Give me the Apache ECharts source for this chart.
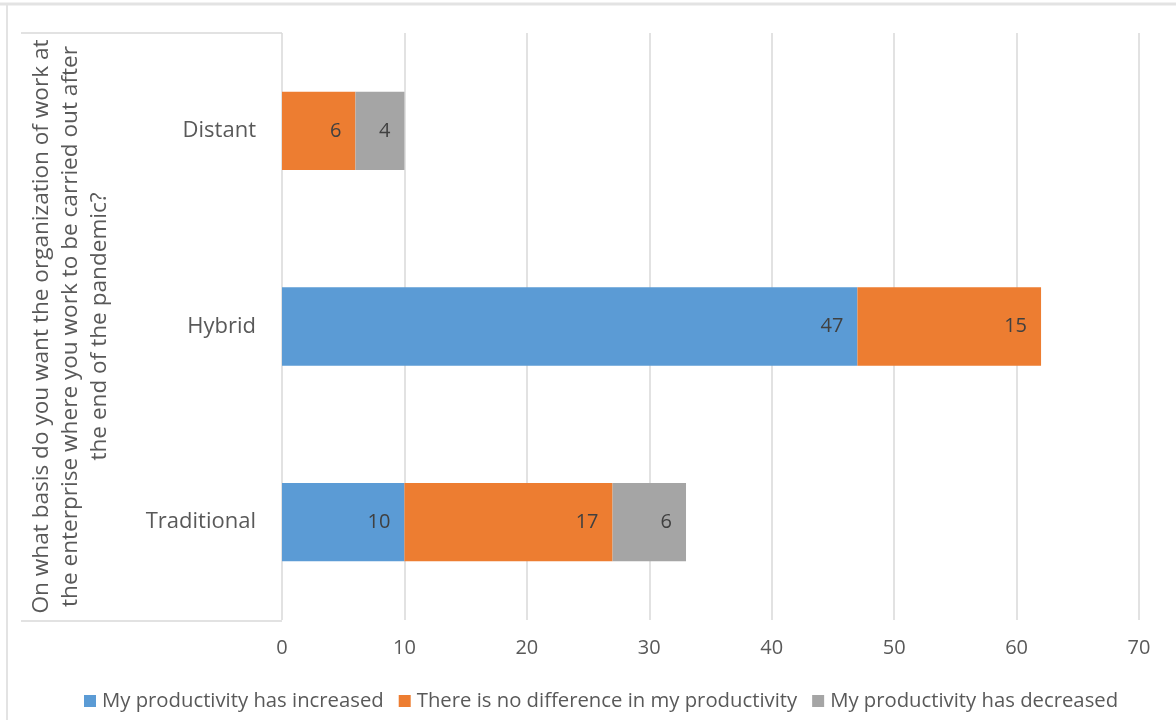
<!DOCTYPE html>
<html>
<head>
<meta charset="utf-8">
<script src="https://cdn.jsdelivr.net/npm/echarts@6/dist/echarts.min.js"></script>
<style>
  html, body { margin: 0; padding: 0; background: #fff; }
  #chart { width: 1176px; height: 720px; }
</style>
</head>
<body>
<div id="chart"></div>
<script>
// Work-organization preference vs. self-reported productivity change
const categories = ['Traditional', 'Hybrid', 'Distant'];
const seriesNames = [
  'My productivity has increased',
  'There is no difference in my productivity',
  'My productivity has decreased'
];
const increased = [10, 47, null];
const noDifference = [17, 15, 6];
const decreased = [6, null, 4];
const xTicks = [0, 10, 20, 30, 40, 50, 60, 70];
const axisTitle = 'On what basis do you want the organization of work at\nthe enterprise where you work to be carried out after\nthe end of the pandemic?';

const colors = ['#5B9BD5', '#ED7D31', '#A5A5A5'];
const FONT = '"Open Sans"';

function barSeries(name, data, color) {
  return {
    name: name,
    type: 'bar',
    stack: 'total',
    data: data,
    barCategoryGap: '60%',
    itemStyle: { color: color },
    label: {
      show: true,
      position: 'insideRight',
      distance: 14,
      color: '#404040',
      fontFamily: FONT,
      fontSize: 20,
      formatter: p => (p.value == null ? '' : p.value)
    },
    emphasis: { disabled: true }
  };
}

const chart = echarts.init(document.getElementById('chart'), null, { renderer: 'canvas' });
chart.setOption({
  animation: false,
  color: colors,
  textStyle: { fontFamily: FONT },
  grid: { left: 282, right: 37, top: 33, bottom: 100, containLabel: false },
  xAxis: {
    type: 'value',
    min: xTicks[0],
    max: xTicks[xTicks.length - 1],
    interval: 10,
    axisLine: { show: false },
    axisTick: { show: false },
    axisLabel: { color: '#595959', fontSize: 20, fontFamily: FONT, margin: 18 },
    splitLine: { show: true, lineStyle: { color: '#D9D9D9', width: 1.5 } }
  },
  yAxis: {
    type: 'category',
    data: categories,
    axisLine: { show: false },
    axisTick: { show: false },
    axisLabel: { color: '#595959', fontSize: 22, fontFamily: FONT, margin: 26 },
    name: axisTitle,
    nameLocation: 'middle',
    nameRotate: 90,
    nameGap: 211,
    nameTextStyle: {
      color: '#595959', fontSize: 22.6, fontFamily: FONT,
      lineHeight: 29, align: 'center', verticalAlign: 'middle'
    }
  },
  legend: {
    bottom: 4,
    left: 79,
    itemWidth: 12,
    itemHeight: 12,
    itemGap: 15,
    icon: 'rect',
    textStyle: { color: '#595959', fontSize: 20.3, fontFamily: FONT, padding: [0, 0, 0, 1] },
    data: seriesNames
  },
  graphic: [
    // outer frame
    { type: 'line', shape: { x1: 0, y1: 4, x2: 1176, y2: 4 }, style: { stroke: '#E3E3E3', lineWidth: 3 }, silent: true },
    { type: 'line', shape: { x1: 7, y1: 4, x2: 7, y2: 720 }, style: { stroke: '#E3E3E3', lineWidth: 2 }, silent: true },
    // box around the category axis area
    { type: 'line', shape: { x1: 21, y1: 33, x2: 282, y2: 33 }, style: { stroke: '#D9D9D9', lineWidth: 1.5 }, silent: true },
    { type: 'line', shape: { x1: 21, y1: 621, x2: 282, y2: 621 }, style: { stroke: '#D9D9D9', lineWidth: 1.5 }, silent: true }
  ],
  series: [
    barSeries(seriesNames[0], increased, colors[0]),
    barSeries(seriesNames[1], noDifference, colors[1]),
    barSeries(seriesNames[2], decreased, colors[2])
  ]
});
</script>
</body>
</html>
